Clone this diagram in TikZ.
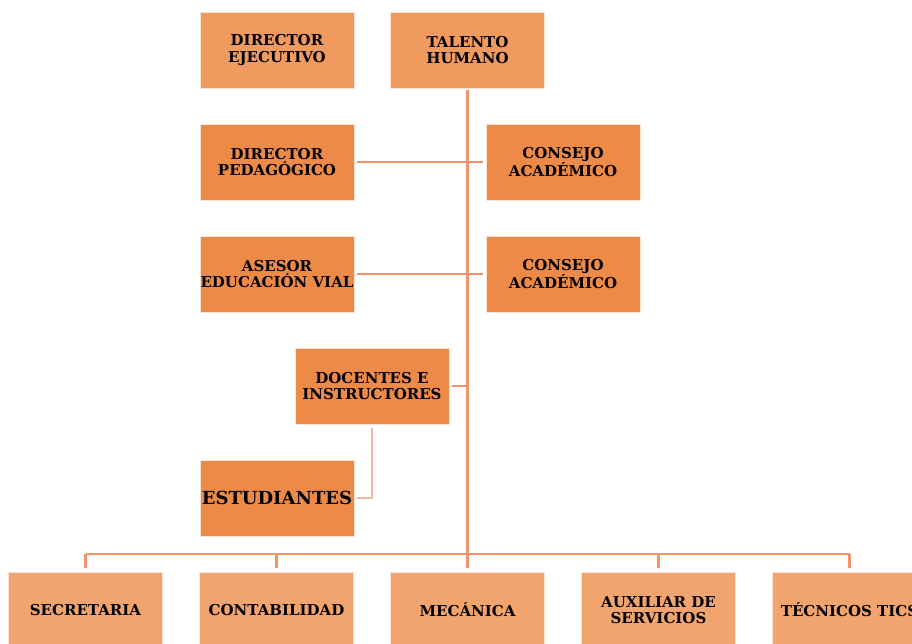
\documentclass[tikz,border=0pt]{standalone}
\usepackage{fontspec}
\setmainfont{DejaVu Serif}
\definecolor{cTop}{HTML}{F19A5F}
\definecolor{cMid}{HTML}{EE8A47}
\definecolor{cBot}{HTML}{F2A46F}
\definecolor{cLine}{HTML}{F0956B}
\definecolor{cPink}{HTML}{F5B5A0}
\definecolor{cEdge}{HTML}{FBE3D4}
\tikzset{
  box/.style={rectangle, draw=cEdge, line width=0.8pt, minimum width=154pt, minimum height=76pt,
    inner sep=0pt, align=center, font=\bfseries\fontsize{15}{16.5}\selectfont},
  topbox/.style={box, fill=cTop},
  midbox/.style={box, fill=cMid},
  botbox/.style={box, fill=cBot},
  conn/.style={draw=cLine, line width=3pt},
  pinkconn/.style={draw=cPink, line width=2.5pt},
}
\begin{document}
\begin{tikzpicture}[x=1pt,y=-1pt]
\useasboundingbox (0,0) rectangle (912,643);
\clip (0,0) rectangle (912,643);
\node[topbox] (de) at (277,50) {DIRECTOR\\EJECUTIVO};
\node[topbox] (th) at (467.5,50) {TALENTO\\HUMANO};
\node[midbox] (dp) at (277,162) {DIRECTOR\\PEDAGÓGICO};
\node[midbox] (ca1) at (563,162) {CONSEJO\\ACADÉMICO};
\node[midbox] (as) at (277,274) {ASESOR\\EDUCACIÓN VIAL};
\node[midbox] (ca2) at (563,274) {CONSEJO\\ACADÉMICO};
\node[midbox] (doc) at (372,386) {DOCENTES E\\INSTRUCTORES};
\node[midbox, font=\bfseries\fontsize{18}{20}\selectfont] (est) at (277,498) {ESTUDIANTES};
\node[botbox] (b1) at (85.5,610) {SECRETARIA};
\node[botbox] (b2) at (276.5,610) {CONTABILIDAD};
\node[botbox] (b3) at (467.5,610) {MECÁNICA};
\node[botbox] (b4) at (658.5,610) {AUXILIAR DE\\SERVICIOS};
\node[botbox] (b5) at (849.5,610) {TÉCNICOS TICS};
\coordinate (bar) at (467.5,554);
\coordinate (barL) at (85.5,554);
\coordinate (barR) at (849.5,554);
% trunk
\draw[conn, shorten <=2pt] (th.south) -- (bar);
\draw[conn, line width=2.5pt] (barL) -- (barR);
\foreach \b in {b1,b2,b3,b4,b5}{
  \draw[conn, line width=2.5pt, shorten >=4pt] (bar -| \b.north) -- (\b.north);
}
\draw[conn, line width=2.5pt, shorten <=3pt, shorten >=3pt] (dp.east) -- (ca1.west);
\draw[conn, line width=2.5pt, shorten <=3pt, shorten >=3pt] (as.east) -- (ca2.west);
\draw[conn, line width=2.5pt, shorten <=3pt] (doc.east) -- (doc.east -| bar);
\draw[pinkconn, shorten <=4pt, shorten >=3pt] (doc.south) |- (est.east);
\end{tikzpicture}
\end{document}
